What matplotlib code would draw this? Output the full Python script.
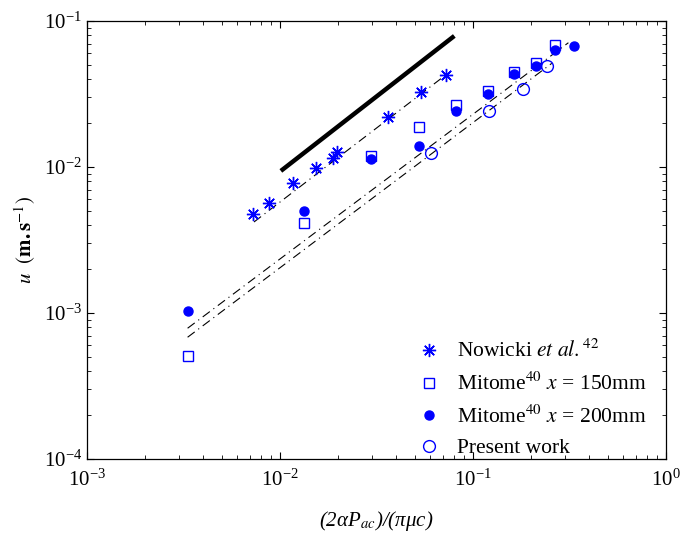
import matplotlib
matplotlib.use("Agg")
import matplotlib.pyplot as plt
import numpy as np

plt.rcParams['font.family'] = ['Liberation Serif', 'DejaVu Serif']
plt.rcParams['mathtext.fontset'] = 'stix'

# Nowicki et al. (asterisks)
now_x = [7.22e-3, 8.81e-3, 0.01164, 0.01531, 0.01882, 0.01982, 0.0364, 0.0536, 0.0724]
now_y = [4.75e-3, 5.69e-3, 7.77e-3, 9.89e-3, 0.01158, 0.01262, 0.0219, 0.0325, 0.0425]

# Mitome x = 150 mm (open squares)
m150_x = [3.32e-3, 0.01327, 0.0296, 0.0527, 0.0821, 0.1189, 0.1626, 0.2114, 0.267]
m150_y = [5.05e-4, 4.12e-3, 0.01195, 0.0188, 0.0266, 0.0334, 0.0445, 0.0513, 0.0688]

# Mitome x = 200 mm (filled circles)
m200_x = [3.32e-3, 0.01327, 0.0296, 0.0527, 0.0821, 0.1189, 0.1626, 0.2114, 0.267, 0.3325]
m200_y = [1.03e-3, 4.99e-3, 0.0113, 0.01393, 0.0243, 0.0315, 0.0436, 0.0492, 0.0633, 0.0674]

# present work (open circles)
pw_x = [0.0604, 0.1211, 0.1815, 0.2415]
pw_y = [0.01253, 0.0243, 0.0342, 0.0494]

# fitted lines (end points)
fit_now_x = [7.33e-3, 0.0699]
fit_now_y = [4.2e-3, 0.0413]
fit_up_x = [3.32e-3, 0.312]
fit_up_y = [7.86e-4, 0.0710]
fit_lo_x = [3.32e-3, 0.256]
fit_lo_y = [6.82e-4, 0.0513]

# slope-one reference line
ref_x = [0.0101, 0.080]
ref_y = [0.0094, 0.079]

blue = (0, 0, 1)
dashdot = (0, (8, 4, 1, 4))

fig = plt.figure(figsize=(6.81, 5.37), dpi=100)
ax = fig.add_axes([0.1278, 0.1453, 0.978 - 0.1278, 0.9609 - 0.1453])

for fx, fy in [(fit_now_x, fit_now_y), (fit_up_x, fit_up_y), (fit_lo_x, fit_lo_y)]:
    ax.plot(fx, fy, color='k', lw=0.8, linestyle=dashdot)

ax.plot(ref_x, ref_y, color='k', lw=3.2, solid_capstyle='butt')

ax.plot(now_x, now_y, linestyle='none', marker=(8, 2, 0), ms=9.5, mew=1.0,
        color=blue, label=r'Nowicki $\mathit{et\ al.}^{42}$')
ax.plot(m150_x, m150_y, linestyle='none', marker='s', ms=6.5, mew=1.0,
        mfc='none', mec=blue, label=r'Mitome$^{40}$ $\mathit{x}$ = 150mm')
ax.plot(m200_x, m200_y, linestyle='none', marker='o', ms=6.5, mew=1.0,
        mfc=blue, mec=blue, label=r'Mitome$^{40}$ $\mathit{x}$ = 200mm')
ax.plot(pw_x, pw_y, linestyle='none', marker='o', ms=8.5, mew=1.0,
        mfc='none', mec=blue, label='Present work')

ax.set_xscale('log')
ax.set_yscale('log')
ax.set_xlim(1e-3, 1)
ax.set_ylim(1e-4, 1e-1)

ax.tick_params(which='both', direction='in', top=True, right=True, labelsize=15)
ax.tick_params(which='major', length=5, width=0.8)
ax.tick_params(which='minor', length=3, width=0.6)
ax.tick_params(axis='x', pad=8)
for s in ax.spines.values():
    s.set_linewidth(0.9)

ax.set_xlabel('(2αP$_{ac}$)/(πμc)', fontsize=15, style='italic', labelpad=13)
ax.set_ylabel(r'$u$  $(\mathbf{m.s}^{-1})$', fontsize=15, labelpad=4)

ax.legend(loc='lower right', frameon=False, fontsize=15.5, handletextpad=0.55,
          labelspacing=0.48, bbox_to_anchor=(1.0, -0.043), handlelength=1.5)

fig.savefig("out.png", dpi=100)
